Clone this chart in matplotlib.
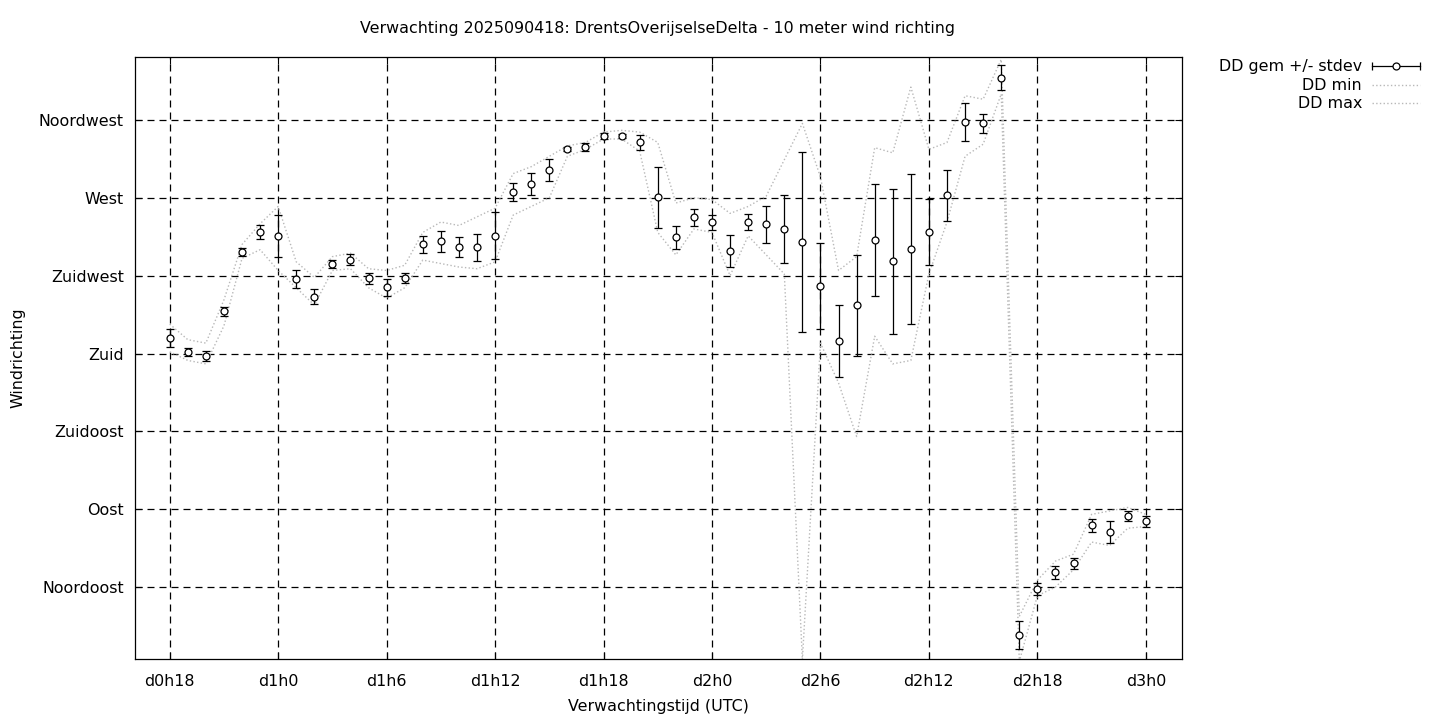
import matplotlib
matplotlib.use("Agg")
import matplotlib.pyplot as plt
from matplotlib.lines import Line2D

# ---------------- data ----------------
hours = [18, 19, 20, 21, 22, 23, 24, 25, 26, 27, 28, 29, 30, 31, 32, 33, 34, 35, 36,
         37, 38, 39, 40, 41, 42, 43, 44, 45, 46, 47, 48, 49, 50, 51, 52, 53, 54, 55,
         56, 57, 58, 59, 60, 61, 62, 63, 64, 65, 66, 67, 68, 69, 70, 71, 72]

dd_mean = [189.1, 180.7, 178.6, 204.4, 238.7, 250.1, 247.9, 222.9, 212.8, 231.6,
           234.1, 223.5, 218.3, 223.5, 243.1, 244.9, 241.4, 241.4, 248.0, 273.2,
           278.0, 286.1, 298.1, 299.4, 305.7, 305.7, 302.1, 270.3, 247.2, 258.7,
           255.9, 239.1, 255.9, 254.7, 251.8, 244.3, 218.9, 187.2, 207.9, 245.4,
           233.3, 240.2, 250.1, 271.5, 313.7, 313.1, 339.3, 17.0, 43.8, 53.5,
           58.7, 80.7, 76.6, 86.0, 83.0]

dd_std = [5.1, 2.4, 2.7, 2.5, 2.2, 4.0, 12.4, 5.1, 4.3, 2.3,
          3.2, 3.2, 5.0, 2.9, 4.9, 6.0, 5.8, 7.8, 13.6, 5.1,
          6.2, 6.6, 1.3, 2.1, 1.5, 1.0, 4.3, 17.6, 6.7, 5.1,
          4.3, 9.2, 4.7, 10.6, 19.6, 52.0, 25.0, 20.7, 29.1, 32.3,
          41.9, 43.4, 19.2, 14.7, 10.9, 5.4, 7.2, 8.1, 3.5, 3.6,
          3.1, 3.9, 6.3, 3.1, 3.1]

dd_min = [181, 176, 174, 196, 235, 240, 228, 218, 208, 228,
          229, 218, 212, 218, 234, 232, 230, 229, 233, 260,
          265, 270, 294, 298, 304, 304, 297, 250, 237, 252,
          250, 225, 248, 237, 226, 3, 186, 163, 132, 190,
          174, 176, 226, 256, 294, 301, 330, 2, 40, 45,
          55, 71, 69, 79, 80]

dd_max = [197, 188, 186, 211, 243, 255, 265, 233, 224, 236,
          238, 229, 228, 231, 250, 256, 254, 259, 264, 284,
          288, 294, 300, 302, 308, 309, 308, 302, 267, 270,
          269, 261, 265, 271, 292, 313, 282, 228, 236, 299,
          296, 334, 298, 302, 329, 327, 350, 28, 49, 60,
          64, 87, 89, 91, 87]

xtick_hours = [18, 24, 30, 36, 42, 48, 54, 60, 66, 72]
xtick_labels = ["d0h18", "d1h0", "d1h6", "d1h12", "d1h18",
                "d2h0", "d2h6", "d2h12", "d2h18", "d3h0"]
ytick_values = [45, 90, 135, 180, 225, 270, 315]
ytick_labels = ["Noordoost", "Oost", "Zuidoost", "Zuid", "Zuidwest", "West", "Noordwest"]

title = "Verwachting 2025090418: DrentsOverijselseDelta - 10 meter wind richting"

# ---------------- figure ----------------
FS = 11.4
plt.rcParams["font.family"] = ["DejaVu Sans"]
plt.rcParams["font.size"] = FS

W, H = 1440, 720
fig = plt.figure(figsize=(W / 100, H / 100), dpi=100)
ax = fig.add_axes([135 / W, 1 - 659 / H, (1182 - 135) / W, (659 - 57) / H])

grey = "#b8b8b8"
ax.plot(hours, dd_min, linestyle=":", color=grey, lw=1.0, zorder=2)
ax.plot(hours, dd_max, linestyle=":", color=grey, lw=1.0, zorder=2)
ax.errorbar(hours, dd_mean, yerr=dd_std, fmt="o", color="black", ecolor="black",
            elinewidth=0.9, capsize=2.6, capthick=0.9, ms=5, mfc="white",
            mec="black", mew=0.9, zorder=3)

ax.set_xlim(16.08, 74.0)
ax.set_ylim(3.4, 351.4)
ax.set_xticks(xtick_hours)
ax.set_xticklabels(xtick_labels)
ax.set_yticks(ytick_values)
ax.set_yticklabels(ytick_labels)
ax.tick_params(axis="both", direction="in", length=5, width=0.8,
               top=True, right=True, labelsize=FS)
ax.tick_params(axis="x", pad=11)
ax.tick_params(axis="y", pad=8)
ax.grid(True, color="black", lw=0.9, linestyle=(0, (5.6, 4.0)))
ax.set_axisbelow(True)
for s in ax.spines.values():
    s.set_linewidth(0.9)

fig.text(658 / W, 1 - 29 / H, title, ha="center", va="center", fontsize=FS)
fig.text(658 / W, 1 - 707 / H, "Verwachtingstijd (UTC)", ha="center", va="center", fontsize=FS)
fig.text(18 / W, 1 - 358 / H, "Windrichting", ha="center", va="center",
         rotation=90, fontsize=FS)

# ---------------- legend (gnuplot style) ----------------
lx0, lx1, lxc, ltext = 1372 / W, 1420 / W, 1396 / W, 1362 / W
rows = [1 - 66 / H, 1 - 85 / H, 1 - 103 / H]
labels = ["DD gem +/- stdev", "DD min", "DD max"]
for y, lab in zip(rows, labels):
    fig.text(ltext, y, lab, ha="right", va="center", fontsize=FS)
fig.add_artist(Line2D([lx0, lx1], [rows[0], rows[0]], transform=fig.transFigure,
                      color="black", lw=0.9))
fig.add_artist(Line2D([lx0, lx1], [rows[0], rows[0]], transform=fig.transFigure,
                      linestyle="none", marker="|", ms=6, mew=0.9, color="black"))
fig.add_artist(Line2D([lxc], [rows[0]], transform=fig.transFigure, linestyle="none",
                      marker="o", ms=5, mfc="white", mec="black", mew=0.9))
for y in rows[1:]:
    fig.add_artist(Line2D([lx0, lx1], [y, y], transform=fig.transFigure,
                          color=grey, lw=1.0, linestyle=":"))

fig.savefig("out.png", dpi=100)
